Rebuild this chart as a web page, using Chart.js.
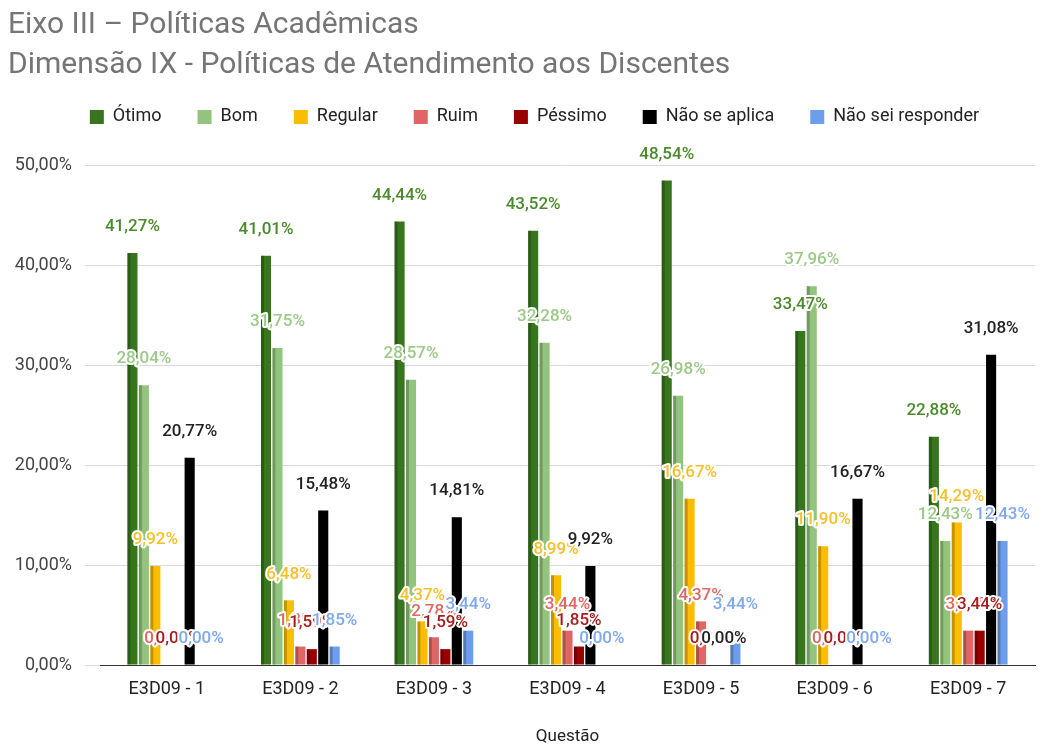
<!DOCTYPE html>
<html>
<head>
<meta charset="utf-8">
<script src="https://cdn.jsdelivr.net/npm/chart.js@4/dist/chart.umd.min.js"></script>
<style>
html,body{margin:0;padding:0;background:#fff;}
canvas{display:block;}
</style>
</head>
<body>
<canvas id="c" width="1051" height="744"></canvas>
<script>
const categories = ['E3D09 - 1','E3D09 - 2','E3D09 - 3','E3D09 - 4','E3D09 - 5','E3D09 - 6','E3D09 - 7'];
const seriesNames = ['Ótimo','Bom','Regular','Ruim','Péssimo','Não se aplica','Não sei responder'];
const otimo     = [41.27, 41.01, 44.44, 43.52, 48.54, 33.47, 22.88];
const bom       = [28.04, 31.75, 28.57, 32.28, 26.98, 37.96, 12.43];
const regular   = [9.92, 6.48, 4.37, 8.99, 16.67, 11.90, 14.29];
const ruim      = [0.00, 1.85, 2.78, 3.44, 4.37, 0.00, 3.44];
const pessimo   = [0.00, 1.59, 1.59, 1.85, 0.00, 0.00, 3.44];
const naoAplica = [20.77, 15.48, 14.81, 9.92, 0.00, 16.67, 31.08];
const naoSei    = [0.00, 1.85, 3.44, 0.00, 3.44, 0.00, 12.43];
const yTicks = [0, 10, 20, 30, 40, 50];
const titleLines = ['Eixo III – Políticas Acadêmicas', 'Dimensão IX - Políticas de Atendimento aos Discentes'];
const xTitle = 'Questão';

const colors = ['#38761d','#93c47d','#fbbc04','#e06666','#990000','#000000','#6d9eeb'];
const labelColors = ['#4a8a2c','#9cc988','#f6c02a','#e06666','#a61c1c','#222222','#7fa9ee'];
const allSeries = [otimo, bom, regular, ruim, pessimo, naoAplica, naoSei];

const fmt = v => v.toFixed(2).replace('.', ',') + '%';

const legendGapPlugin = {
  id: 'legendGap',
  afterInit(chart) {
    const lg = chart.legend;
    if (!lg) return;
    const orig = lg.fit.bind(lg);
    lg.fit = function () { orig(); this.height += 30; };
  },
  afterLayout(chart) {
    const lg = chart.legend;
    if (!lg) return;
    lg.left += 13;
    lg.right += 13;
  }
};

const shadePlugin = {
  id: 'shade',
  afterDatasetsDraw(chart) {
    const ctx = chart.ctx;
    ctx.save();
    chart.data.datasets.forEach((ds, i) => {
      const meta = chart.getDatasetMeta(i);
      meta.data.forEach(el => {
        const h = el.base - el.y;
        if (h <= 0.5) return;
        const left = el.x - el.width / 2;
        ctx.fillStyle = 'rgba(0,0,0,0.22)';
        ctx.fillRect(left, el.y, Math.min(3, el.width), h);
      });
    });
    ctx.restore();
  }
};

const labelPlugin = {
  id: 'valueLabels',
  afterDraw(chart) {
    const ctx = chart.ctx;
    ctx.save();
    ctx.font = '500 17px Roboto';
    ctx.textAlign = 'center';
    ctx.textBaseline = 'middle';
    ctx.lineJoin = 'round';
    chart.data.datasets.forEach((ds, i) => {
      const meta = chart.getDatasetMeta(i);
      meta.data.forEach((el, j) => {
        const t = fmt(ds.data[j]);
        const y = el.y - 26;
        ctx.lineWidth = 4;
        ctx.strokeStyle = '#ffffff';
        ctx.strokeText(t, el.x, y);
        ctx.fillStyle = labelColors[i];
        ctx.fillText(t, el.x, y);
      });
    });
    ctx.restore();
  }
};

new Chart(document.getElementById('c'), {
  type: 'bar',
  data: {
    labels: categories,
    datasets: allSeries.map((d, i) => ({
      label: seriesNames[i],
      data: d,
      backgroundColor: colors[i],
      borderWidth: 0,
      categoryPercentage: 0.6,
      barPercentage: 0.88
    }))
  },
  options: {
    responsive: false,
    devicePixelRatio: 1,
    animation: false,
    layout: { padding: { left: 8, right: 16, top: 0, bottom: 0 } },
    plugins: {
      tooltip: { enabled: false },
      title: {
        display: true,
        text: titleLines,
        align: 'start',
        color: '#757575',
        font: { family: 'Roboto', size: 30, weight: 'normal', lineHeight: 1.333 },
        padding: { top: 6, bottom: -14 }
      },
      legend: {
        position: 'top',
        labels: {
          boxWidth: 14,
          boxHeight: 14,
          padding: 36,
          color: '#222222',
          font: { family: 'Roboto', size: 18 }
        }
      }
    },
    scales: {
      x: {
        grid: { display: false, drawTicks: false },
        border: { display: true, color: '#333333', width: 1 },
        ticks: { color: '#222222', font: { family: 'Roboto', size: 18 }, padding: 14 },
        title: { display: true, text: xTitle, color: '#222222', font: { family: 'Roboto', size: 17 }, padding: { top: 12, bottom: -3 } }
      },
      y: {
        min: 0,
        max: 50,
        afterBuildTicks(scale) { scale.ticks = yTicks.map(v => ({ value: v })); },
        afterFit(scale) { scale.width = 92; },
        grid: { color: '#d9d9d9', tickLength: 15, drawTicks: true },
        border: { display: false },
        ticks: {
          color: '#444444',
          font: { family: 'Roboto', size: 18 },
          padding: 13,
          callback: v => fmt(v)
        }
      }
    }
  },
  plugins: [legendGapPlugin, shadePlugin, labelPlugin]
});
</script>
</body>
</html>
